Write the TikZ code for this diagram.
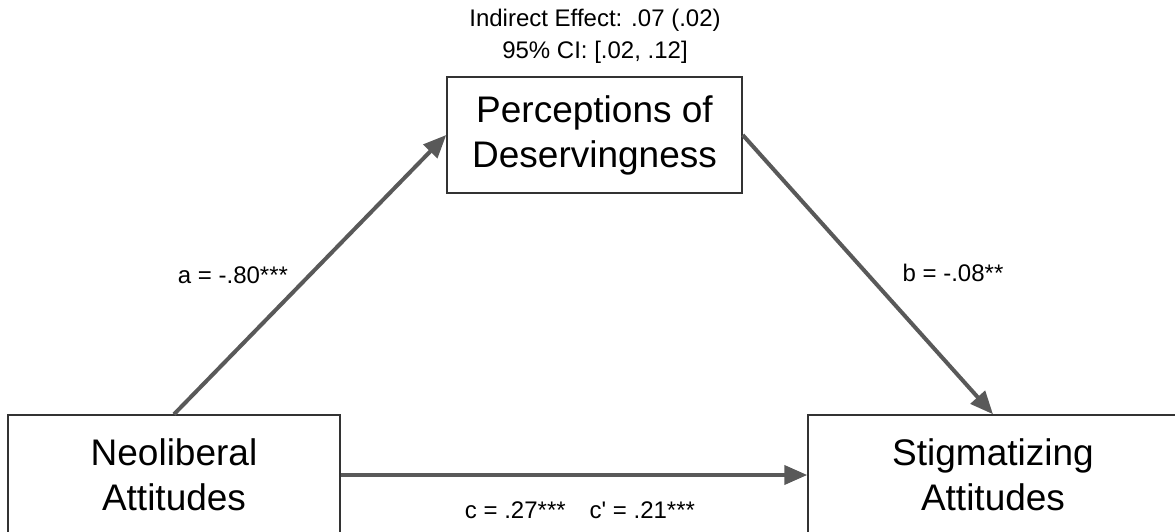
\documentclass[tikz,border=0pt]{standalone}
\usepackage{fontspec}
\setmainfont{Liberation Sans}
\usepackage{tikz}
\usetikzlibrary{arrows.meta}
\definecolor{arrowgray}{HTML}{595959}
\definecolor{boxgray}{HTML}{333333}

\begin{document}
\begin{tikzpicture}[x=1pt,y=1pt,>={Triangle[length=23pt,width=19pt]},
  var/.style={draw=boxgray,line width=1.5pt,align=center,inner sep=0pt,font=\fontsize{37}{45}\selectfont},
  effect/.style={->,draw=arrowgray,fill=arrowgray,line width=4pt},
  coef/.style={align=center,inner sep=0pt,font=\fontsize{24}{32}\selectfont}]
\useasboundingbox (0,0) rectangle (1175,531);
% variables
\node[var,minimum width=332,minimum height=120] (neo) at (174,56) {Neoliberal\\Attitudes};
\node[var,minimum width=370,minimum height=120] (stig) at (993,56) {Stigmatizing\\Attitudes};
\node[var,minimum width=295,minimum height=116] (perc) at (594.5,396) {Perceptions of\\Deservingness};
% paths
\draw[effect] (neo.north) -- (perc.west);
\draw[effect] (perc.east) -- (stig.north);
\draw[effect] (neo.east) -- (stig.west);
% coefficients
\node[coef] (ind) at (595,495) {Indirect Effect: .07 (.02)\\95\% CI: [.02, .12]};
\node[coef] (apath) at (233,256) {a = -.80***};
\node[coef] (bpath) at (953,258) {b = -.08**};
\node[coef] (cpath) at (580,21) {c = .27***\quad c\textquotesingle{} = .21***};
\end{tikzpicture}
\end{document}
